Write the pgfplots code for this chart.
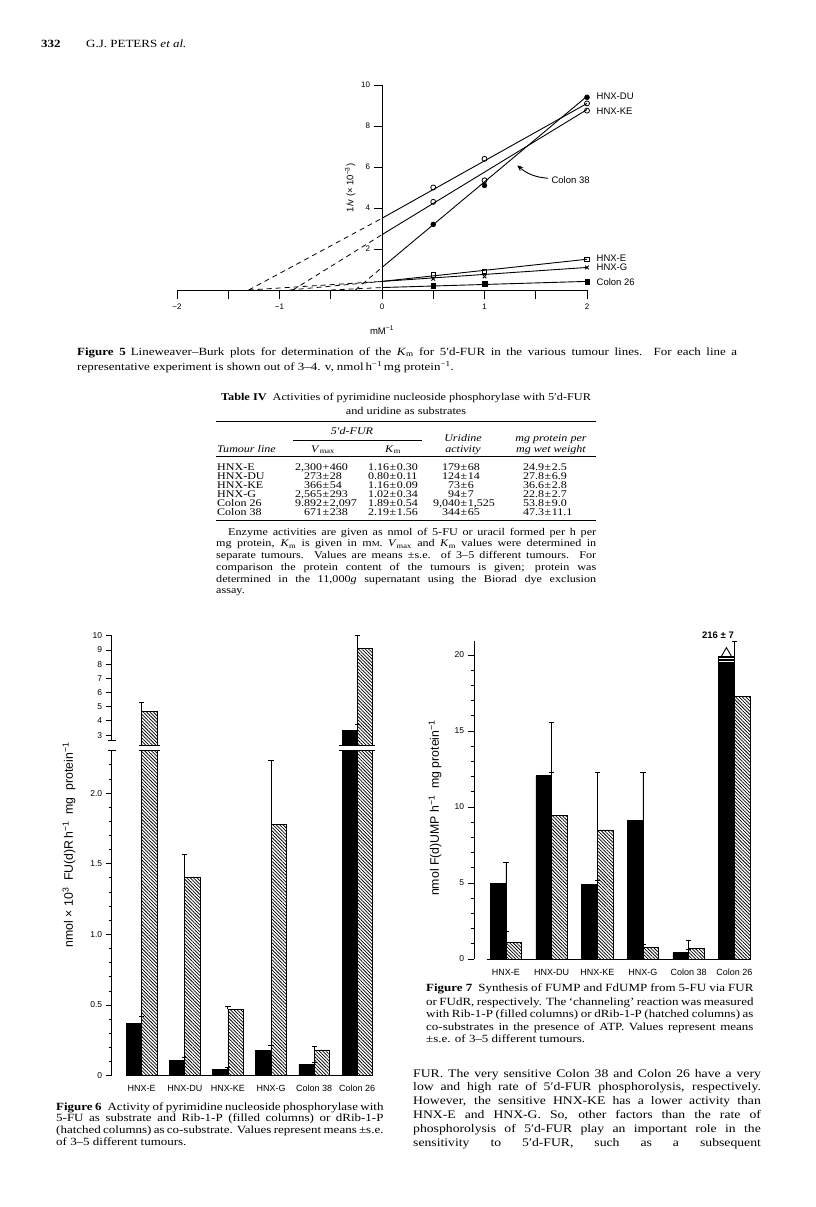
\documentclass[border=0pt]{standalone}
\usepackage{fontspec}
\setmainfont{Liberation Serif}[FakeStretch=1.18]
\newfontfamily\hv{Liberation Sans}
\usepackage{pgfplots}
\pgfplotsset{compat=1.18}
\usetikzlibrary{patterns.meta,arrows.meta}
\tikzset{
  capt/.style={font=\fontsize{11}{13}\selectfont, inner sep=0pt, anchor=base west},
  bodt/.style={font=\fontsize{11.6}{14}\selectfont, inner sep=0pt, anchor=base west},
  fntt/.style={font=\fontsize{10.3}{12}\selectfont, inner sep=0pt, anchor=base west},
  tabt/.style={font=\fontsize{10.2}{11}\selectfont, inner sep=0pt},
  hatch/.style={pattern={Lines[angle=-45,distance=2.4pt,line width=0.75pt]}},
}
\newcommand\jl[5]{\node[#1] at (#2pt,-#3pt) {\makebox[#4pt][s]{#5}};}
\newcommand\lt[4]{\node[#1] at (#2pt,-#3pt) {#4};}
\newcommand\pc[5]{%
  \node[tabt,anchor=base east] at (#1pt-3.6pt,-#2pt) {#3};
  \node[tabt,anchor=base] at (#1pt,-#2pt) {#4};
  \node[tabt,anchor=base west] at (#1pt+3.6pt,-#2pt) {#5};}
\newcommand\sm{{\fontsize{7.6}{8}\selectfont M}}
\pgfplotsset{
  ebar/.style={error bars/.cd, y dir=plus, y explicit,
    error bar style={line width=0.9pt,black},
    error mark options={rotate=90,black,mark size=2.6pt,line width=0.9pt}},
  barax/.style={scale only axis, axis line style={-, line width=0.9pt},
    tick align=outside, tick style={black, line width=0.8pt},
    yticklabel style={font=\hv\fontsize{8.5}{10}\selectfont},
    xticklabel style={font=\hv\fontsize{9}{10}\selectfont, yshift=0pt}},
}
\begin{document}
\begin{tikzpicture}

% ---------- header ----------
\node[font=\fontsize{11}{13}\selectfont\bfseries, inner sep=0pt, anchor=base west] at (41pt,-48pt) {332};
\node[font=\fontsize{11}{13}\selectfont, inner sep=0pt, anchor=base west] at (86pt,-48pt) {G.J. PETERS \textit{et al.}};

% ---------- Figure 5 ----------
\begin{axis}[at={(177pt,-290pt)}, anchor=south west, scale only axis,
  width=410pt, height=205pt,
  xmin=-2, xmax=2, ymin=0, ymax=10, clip=false,
  axis lines=middle, axis line style={-, line width=0.9pt},
  xtick={-2,-1,0,1,2}, xticklabels={−2,−1,0,1,2},
  minor xtick={-1.5,-0.5,0.5,1.5},
  ytick={2,4,6,8,10}, yticklabels={2,4,6,8,10},
  hide obscured x ticks=false, hide obscured y ticks=false,
  tick align=outside, major tick length=8.5pt, minor tick length=8.5pt,
  tick style={black, line width=0.9pt},
  ticklabel style={font=\hv\fontsize{8}{9}\selectfont},
  xticklabel style={yshift=-2pt},
]
% fitted lines
\addplot[black, line width=0.9pt] coordinates {(0,3.5) (2,9.1)};
\addplot[black, line width=0.9pt] coordinates {(0,2.7) (2,8.8)};
\addplot[black, line width=0.9pt] coordinates {(0,1.1) (2,9.45)};
\addplot[black, line width=0.9pt] coordinates {(0,0.42) (2,1.5)};
\addplot[black, line width=0.9pt] coordinates {(0,0.42) (2,1.1)};
\addplot[black, line width=0.9pt] coordinates {(0,0.12) (2,0.42)};
% extrapolations
\addplot[black, line width=0.8pt, dash pattern=on 5pt off 4pt] coordinates {(-1.3,0) (0,3.5)};
\addplot[black, line width=0.8pt, dash pattern=on 5pt off 4pt] coordinates {(-0.87,0) (0,2.7)};
\addplot[black, line width=0.8pt, dash pattern=on 5pt off 4pt] coordinates {(-0.26,0) (0,1.1)};
\addplot[black, line width=0.8pt, dash pattern=on 5pt off 4pt] coordinates {(-1.3,0) (0,0.42)};
\addplot[black, line width=0.8pt, dash pattern=on 5pt off 4pt] coordinates {(-0.9,0) (0,0.42)};
\addplot[black, line width=0.8pt, dash pattern=on 5pt off 4pt] coordinates {(-0.5,0) (0,0.12)};
% data points
\addplot[only marks, mark=o, mark size=2.5pt, mark options={fill=white, line width=0.8pt}] coordinates {(0.5,5.0) (1,6.4) (2,9.1)};
\addplot[only marks, mark=o, mark size=2.5pt, mark options={fill=white, line width=0.8pt}] coordinates {(0.5,4.3) (1,5.35) (2,8.75)};
\addplot[only marks, mark=*, mark size=2.5pt, mark options={fill=black}] coordinates {(0.5,3.2) (1,5.1) (2,9.4)};
\addplot[only marks, mark=square, mark size=2.3pt, mark options={fill=white, line width=0.8pt}] coordinates {(0.5,0.74) (1,0.9) (2,1.5)};
\addplot[only marks, mark=x, mark size=2.6pt, mark options={line width=0.9pt}] coordinates {(0.5,0.55) (1,0.66) (2,1.1)};
\addplot[only marks, mark=square*, mark size=2.3pt, mark options={fill=black}] coordinates {(0.5,0.22) (1,0.31) (2,0.4)};
\begin{scope}[font=\hv\fontsize{9.5}{10}\selectfont]
\node[anchor=west] at (axis cs:2.06,9.43) {HNX-DU};
\node[anchor=west] at (axis cs:2.06,8.73) {HNX-KE};
\node[anchor=west] at (axis cs:2.06,1.56) {HNX-E};
\node[anchor=west] at (axis cs:2.06,1.12) {HNX-G};
\node[anchor=west] at (axis cs:2.06,0.39) {Colon 26};
\node[anchor=west] at (axis cs:1.62,5.37) {Colon 38};
\node[rotate=90] at (axis cs:-0.31,4.98) {1/v (× 10\textsuperscript{−3})};
\node[yshift=-40pt] at (axis cs:0,0) {mM\textsuperscript{−1}};
\end{scope}
\draw[-{Stealth[length=6pt,width=5pt]}, line width=0.9pt] (axis cs:1.62,5.45) to[bend left=18] (axis cs:1.32,6.08);
\end{axis}

% Figure 5 caption
\jl{capt}{77}{355}{660}{\textbf{Figure 5}\hspace{5pt}Lineweaver–Burk plots for determination of the \textit{K}\textsubscript{m} for 5′d-FUR in the various tumour lines. For each line a}
\lt{capt}{77}{370}{representative experiment is shown out of 3–4. v, nmol\,h\textsuperscript{−1}\,mg protein\textsuperscript{−1}.}

% ---------- Table IV ----------
\node[font=\fontsize{10.4}{12}\selectfont, inner sep=0pt, anchor=base] at (406pt,-400pt) {\textbf{Table IV}\hspace{6pt}Activities of pyrimidine nucleoside phosphorylase with 5′d-FUR};
\node[font=\fontsize{10.4}{12}\selectfont, inner sep=0pt, anchor=base] at (406pt,-414.5pt) {and uridine as substrates};
\draw[line width=1pt] (216pt,-421.7pt) -- (596pt,-421.7pt);
\draw[line width=0.6pt] (293pt,-440.7pt) -- (422pt,-440.7pt);
\draw[line width=0.6pt] (216pt,-456pt) -- (596pt,-456pt);
\draw[line width=1pt] (216pt,-520pt) -- (596pt,-520pt);
\node[tabt,anchor=base] at (352pt,-434.5pt) {\itshape 5′d-FUR};
\node[tabt,anchor=base] at (463pt,-441pt) {\itshape Uridine};
\node[tabt,anchor=base] at (463pt,-452pt) {\itshape activity};
\node[tabt,anchor=base] at (551pt,-441pt) {\itshape mg protein per};
\node[tabt,anchor=base] at (551pt,-452pt) {\itshape mg wet weight};
\node[tabt,anchor=base west] at (217pt,-452pt) {\itshape Tumour line};
\node[tabt,anchor=base] at (323pt,-452pt) {\textit{V}\textsubscript{max}};
\node[tabt,anchor=base] at (393pt,-452pt) {\textit{K}\textsubscript{m}};
% rows
\node[tabt,anchor=base west] at (217pt,-470.5pt) {HNX-E};
\pc{326}{470.5}{2,300}{+}{460}\pc{393}{470.5}{1.16}{±}{0.30}\pc{464}{470.5}{179}{±}{68}\pc{548}{470.5}{24.9}{±}{2.5}
\node[tabt,anchor=base west] at (217pt,-479.5pt) {HNX-DU};
\pc{326}{479.5}{273}{±}{28}\pc{393}{479.5}{0.80}{±}{0.11}\pc{464}{479.5}{124}{±}{14}\pc{548}{479.5}{27.8}{±}{6.9}
\node[tabt,anchor=base west] at (217pt,-488.5pt) {HNX-KE};
\pc{326}{488.5}{366}{±}{54}\pc{393}{488.5}{1.16}{±}{0.09}\pc{464}{488.5}{73}{±}{6}\pc{548}{488.5}{36.6}{±}{2.8}
\node[tabt,anchor=base west] at (217pt,-497.5pt) {HNX-G};
\pc{326}{497.5}{2,565}{±}{293}\pc{393}{497.5}{1.02}{±}{0.34}\pc{464}{497.5}{94}{±}{7}\pc{548}{497.5}{22.8}{±}{2.7}
\node[tabt,anchor=base west] at (217pt,-506.5pt) {Colon 26};
\pc{326}{506.5}{9.892}{±}{2,097}\pc{393}{506.5}{1.89}{±}{0.54}\pc{464}{506.5}{9,040}{±}{1,525}\pc{548}{506.5}{53.8}{±}{9.0}
\node[tabt,anchor=base west] at (217pt,-515.5pt) {Colon 38};
\pc{326}{515.5}{671}{±}{238}\pc{393}{515.5}{2.19}{±}{1.56}\pc{464}{515.5}{344}{±}{65}\pc{548}{515.5}{47.3}{±}{11.1}
% footnote
\jl{fntt}{228}{535.2}{368}{Enzyme activities are given as nmol of 5-FU or uracil formed per h per}
\jl{fntt}{216}{546.9}{380}{mg protein, \textit{K}\textsubscript{m} is given in m\sm. \textit{V}\textsubscript{max} and \textit{K}\textsubscript{m} values were determined in}
\jl{fntt}{216}{558.6}{380}{separate tumours. Values are means ±s.e. of 3–5 different tumours. For}
\jl{fntt}{216}{570.3}{380}{comparison the protein content of the tumours is given; protein was}
\jl{fntt}{216}{582.0}{380}{determined in the 11,000\textit{g} supernatant using the Biorad dye exclusion}
\lt{fntt}{216}{593.7}{assay.}

% ---------- Figure 6 (broken axis) ----------
\begin{axis}[barax, at={(111.7pt,-1075.7pt)}, anchor=south west,
  width=267.1pt, height=325pt,
  xmin=-0.696, xmax=5.5, ymin=0, ymax=2.3,
  axis x line*=bottom, x axis line style={draw=none}, axis y line*=left,
  xtick={0,1,2,3,4,5}, xtick style={draw=none},
  xticklabels={HNX-E,HNX-DU,HNX-KE,HNX-G,Colon 38,Colon 26},
  ytick={0,0.5,1,1.5,2}, yticklabels={0,0.5,1.0,1.5,2.0},
  minor ytick={0.1,0.2,0.3,0.4,0.6,0.7,0.8,0.9,1.1,1.2,1.3,1.4,1.6,1.7,1.8,1.9,2.1,2.2},
  major tick length=6pt, minor tick length=3pt,
]
\addplot[ybar, bar width=15.2pt, bar shift=-7.6pt, fill=black, draw=black, line width=0.8pt, ebar]
  coordinates {(0,0.372) +- (0,0.048) (1,0.106) +- (0,0.024) (2,0.047) +- (0,0.013)
               (3,0.177) +- (0,0.036) (4,0.080) +- (0,0.015) (5,3.35) +- (0,0.40)};
\addplot[ybar, bar width=15.2pt, bar shift=7.6pt, hatch, draw=black, line width=0.8pt, ebar]
  coordinates {(0,4.69) +- (0,0.58) (1,1.40) +- (0,0.165) (2,0.47) +- (0,0.02)
               (3,1.78) +- (0,0.45) (4,0.182) +- (0,0.024) (5,9.1) +- (0,0.94)};
\coordinate (bl0) at (axis cs:-0.364,0);
\coordinate (bl1) at (axis cs:5.336,0);
\coordinate (ax) at (axis cs:-0.696,2.3);
\coordinate (e0) at (axis cs:-0.07,2.3);
\coordinate (e1) at (axis cs:0.423,2.3);
\coordinate (c0) at (axis cs:4.577,2.3);
\coordinate (c1) at (axis cs:5.423,2.3);
\end{axis}
\begin{axis}[barax, at={(111.7pt,-745pt)}, anchor=south west,
  width=267.1pt, height=112.1pt,
  xmin=-0.696, xmax=5.5, ymin=2.3, ymax=10.2,
  axis x line=none, axis y line*=left, y axis line style={draw=none},
  ytick={3,4,5,6,7,8,9,10}, yticklabels={3,4,5,6,7,8,9,10},
  major tick length=6pt,
]
% upper part of the broken axis: only the columns that reach above the break
\addplot[ybar, bar width=15.2pt, bar shift=-7.6pt, fill=black, draw=black, line width=0.8pt, ebar]
  coordinates {(5,3.35) +- (0,0.40)};
\addplot[ybar, bar width=15.2pt, bar shift=7.6pt, hatch, draw=black, line width=0.8pt, ebar]
  coordinates {(0,4.69) +- (0,0.58) (5,9.1) +- (0,0.94)};
\coordinate (ua) at (axis cs:-0.696,2.6);
\coordinate (ub) at (axis cs:-0.696,10);
\end{axis}
\draw[line width=0.9pt] (bl0) -- (bl1);
\draw[line width=0.9pt] (e0) -- (e1) (c0) -- (c1);
\draw[line width=0.9pt] ([yshift=5.7pt]e0) -- ([yshift=5.7pt]e1) ([yshift=5.7pt]c0) -- ([yshift=5.7pt]c1);
\draw[line width=0.9pt] (ua) -- (ub);
\draw[line width=0.9pt] ([xshift=-4pt]ua) -- ([xshift=4pt]ua);
\draw[line width=0.9pt] ([xshift=-4pt]ax) -- ([xshift=4pt]ax);
\node[rotate=90, font=\hv\fontsize{12.3}{13}\selectfont] at (69pt,-845pt) {nmol × 10\textsuperscript{3}\ \ FU(d)R\,h\textsuperscript{−1}\ \ mg\ \ protein\textsuperscript{−1}};

\jl{capt}{56}{1110}{327.3}{\textbf{Figure 6}\hspace{6pt}Activity of pyrimidine nucleoside phosphorylase with}
\jl{capt}{56}{1121.7}{327.3}{5-FU as substrate and Rib-1-P (filled columns) or dRib-1-P}
\jl{capt}{56}{1133.4}{327.3}{(hatched columns) as co-substrate. Values represent means ±s.e.}
\lt{capt}{56}{1145.1}{of 3–5 different tumours.}

% ---------- Figure 7 ----------
\begin{axis}[barax, at={(474.3pt,-959pt)}, anchor=south west,
  width=282.8pt, height=317.7pt,
  xmin=-0.694, xmax=5.5, ymin=0, ymax=20.9, clip=false,
  axis x line*=bottom, x axis line style={draw=none}, axis y line*=left,
  xtick={0,1,2,3,4,5}, xtick style={draw=none},
  xticklabels={HNX-E,HNX-DU,HNX-KE,HNX-G,Colon 38,Colon 26},
  ytick={0,5,10,15,20}, yticklabels={0,5,10,15,20},
  minor y tick num=4, major tick length=6.7pt, minor tick length=3.5pt,
]
\draw[line width=0.9pt] (axis cs:-0.42,0) -- (axis cs:5.34,0);
\addplot[ybar, bar width=15.7pt, bar shift=-7.85pt, fill=black, draw=black, line width=0.8pt, ebar]
  coordinates {(0,4.98) +- (0,1.36) (1,12.06) +- (0,3.49) (2,4.91) +- (0,0.24)
               (3,9.1) +- (0,3.2) (4,0.42) +- (0,0.24)};
\addplot[ybar, bar width=15.7pt, bar shift=-7.85pt, fill=black, draw=black, line width=0.8pt]
  coordinates {(5,19.9)};
\addplot[ybar, bar width=15.7pt, bar shift=7.85pt, hatch, draw=black, line width=0.8pt, ebar]
  coordinates {(0,1.1) +- (0,0.74) (1,9.43) +- (0,2.87) (2,8.49) +- (0,3.81)
               (3,0.75) +- (0,0.22) (4,0.7) +- (0,0.5) (5,17.3) +- (0,3.6)};
\draw[white, line width=0.8pt] (axis cs:4.665,19.8) -- (axis cs:4.99,19.8);
\draw[white, line width=0.8pt] (axis cs:4.665,19.6) -- (axis cs:4.99,19.6);
\addplot[only marks, mark=triangle, mark size=6pt, mark options={fill=white, draw=black, line width=0.9pt}] coordinates {(4.828,20.09)};
\node[font=\hv\bfseries\fontsize{9.5}{11}\selectfont] at (axis cs:4.643,21.32) {216 ± 7};
\end{axis}
\node[rotate=90, font=\hv\fontsize{12.3}{13}\selectfont] at (435pt,-808pt) {nmol F(d)UMP h\textsuperscript{−1}\ \ mg protein\textsuperscript{−1}};

\jl{capt}{426}{991.8}{327.3}{\textbf{Figure 7}\hspace{6pt}Synthesis of FUMP and FdUMP from 5-FU via FUR}
\jl{capt}{426}{1005.2}{327.3}{or FUdR, respectively. The ‘channeling’ reaction was measured}
\jl{capt}{426}{1017.8}{327.3}{with Rib-1-P (filled columns) or dRib-1-P (hatched columns) as}
\jl{capt}{426}{1030.2}{327.3}{co-substrates in the presence of ATP. Values represent means}
\lt{capt}{426}{1042.8}{±s.e. of 3–5 different tumours.}

% ---------- body text ----------
\jl{bodt}{413}{1077}{347.7}{FUR. The very sensitive Colon 38 and Colon 26 have a very}
\jl{bodt}{413}{1090.5}{347.7}{low and high rate of 5′d-FUR phosphorolysis, respectively.}
\jl{bodt}{413}{1104.5}{347.7}{However, the sensitive HNX-KE has a lower activity than}
\jl{bodt}{413}{1118.5}{347.7}{HNX-E and HNX-G. So, other factors than the rate of}
\jl{bodt}{413}{1132.5}{347.7}{phosphorolysis of 5′d-FUR play an important role in the}
\jl{bodt}{413}{1146.5}{347.7}{sensitivity to 5′d-FUR, such as a subsequent}

\path (0pt,0pt) rectangle (816pt,-1207pt);
\end{tikzpicture}
\end{document}
